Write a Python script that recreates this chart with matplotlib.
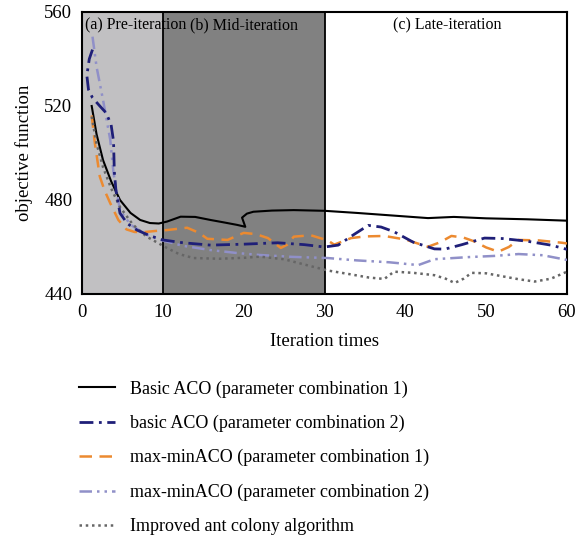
import matplotlib
matplotlib.use("Agg")
import matplotlib.pyplot as plt

plt.rcParams['font.family'] = ['Liberation Serif', 'DejaVu Serif']

# Basic ACO (parameter combination 1)
basic1_x = [1.2, 1.8, 2.6, 3.6, 4.7, 6.0, 7.2, 8.4, 9.5, 10.5, 12.2, 14.0, 15.9, 17.5, 19.2, 20.2, 19.8, 20.4, 21.2, 23.5, 26.2, 30.0, 34.0, 38.0, 42.8, 46.0, 50.0, 55.0, 60.0]
basic1_y = [520.0, 508.0, 497.0, 488.0, 480.0, 474.5, 471.5, 470.2, 470.0, 470.8, 472.9, 472.8, 471.5, 470.5, 469.4, 468.6, 472.5, 474.2, 475.0, 475.5, 475.7, 475.4, 474.5, 473.5, 472.3, 472.8, 472.2, 471.8, 471.2]

# basic ACO (parameter combination 2)
basic2_x = [1.3, 0.9, 0.6, 0.8, 1.3, 2.2, 3.0, 3.6, 3.9, 4.0, 4.2, 4.7, 5.6, 6.8, 8.4, 10.0, 12.5, 15.9, 20.0, 24.2, 27.5, 30.0, 31.7, 33.5, 35.4, 37.0, 38.6, 41.0, 43.6, 44.9, 47.0, 49.8, 52.0, 55.0, 58.0, 60.0]
basic2_y = [544.0, 540.0, 533.0, 527.0, 523.5, 520.0, 517.0, 512.0, 505.0, 492.0, 484.0, 474.4, 470.0, 467.2, 464.8, 463.0, 461.8, 460.8, 461.2, 461.8, 461.0, 460.0, 460.8, 465.0, 469.2, 468.5, 466.5, 462.0, 459.2, 459.1, 461.0, 463.8, 463.6, 462.5, 460.8, 459.0]

# max-minACO (parameter combination 1)
mm1_x = [1.2, 1.6, 2.2, 2.8, 3.5, 4.5, 5.5, 6.5, 7.6, 9.0, 10.5, 13.0, 14.5, 15.5, 18.0, 20.0, 21.5, 23.0, 24.6, 25.4, 26.2, 28.3, 30.4, 31.2, 33.3, 35.0, 37.4, 40.0, 42.8, 44.3, 45.7, 47.2, 48.6, 50.0, 51.5, 52.8, 54.0, 56.5, 59.4, 60.0]
mm1_y = [516.0, 504.0, 490.0, 484.0, 478.6, 471.5, 467.5, 466.4, 466.3, 466.8, 467.2, 468.2, 466.0, 463.5, 463.0, 466.0, 465.5, 463.8, 459.6, 461.0, 464.4, 465.0, 462.8, 461.0, 463.8, 464.5, 464.7, 463.2, 460.1, 462.0, 464.7, 464.0, 462.3, 459.8, 458.0, 460.0, 463.0, 462.8, 461.8, 461.5]

# max-minACO (parameter combination 2)
mm2_x = [1.3, 1.8, 2.6, 3.5, 3.9, 4.7, 6.0, 7.8, 9.7, 12.5, 15.9, 19.0, 22.0, 26.0, 30.4, 34.0, 38.0, 41.6, 43.6, 47.8, 51.0, 54.0, 57.0, 60.0]
mm2_y = [549.5, 536.7, 522.6, 505.5, 491.4, 475.7, 469.5, 465.5, 463.0, 460.5, 458.7, 457.5, 456.6, 455.8, 455.3, 454.3, 453.5, 452.3, 454.8, 455.7, 456.2, 457.0, 456.5, 454.5]

# Improved ant colony algorithm
imp_x = [1.2, 1.8, 2.6, 3.6, 4.7, 6.3, 8.0, 10.5, 12.0, 13.8, 17.0, 20.0, 22.0, 25.0, 27.0, 30.4, 33.0, 35.5, 37.4, 38.6, 41.0, 43.6, 45.0, 46.1, 47.2, 48.2, 50.0, 51.9, 54.0, 56.0, 58.0, 60.0]
imp_y = [515.5, 504.0, 494.0, 485.0, 477.0, 469.5, 464.4, 459.6, 457.0, 455.3, 455.0, 455.4, 455.9, 454.8, 453.0, 450.0, 448.5, 447.0, 446.4, 449.5, 449.0, 448.0, 446.5, 444.7, 446.5, 449.0, 448.8, 447.6, 446.3, 445.3, 446.5, 449.5]

labels = ["Basic ACO (parameter combination 1)",
          "basic ACO (parameter combination 2)",
          "max-minACO (parameter combination 1)",
          "max-minACO (parameter combination 2)",
          "Improved ant colony algorithm"]

phase_edges = [0, 10, 30, 60]
phase_colors = ['#c1c0c2', '#818181', '#ffffff']
phase_labels = ["(a) Pre-iteration", "(b) Mid-iteration", "(c) Late-iteration"]

fig = plt.figure(figsize=(5.76, 5.40), dpi=100)
ax = fig.add_axes([82/576, 1-294/540, (567-82)/576, (294-12)/540])

for i in range(3):
    ax.axvspan(phase_edges[i], phase_edges[i+1], color=phase_colors[i], zorder=0, lw=0)
for e in phase_edges[1:3]:
    ax.axvline(e, color='black', lw=1.3, zorder=1)

ax.text(0.4, 557.5, phase_labels[0], fontsize=11.5, va='top', ha='left')
ax.text(20.1, 557.5, phase_labels[1], fontsize=11.5, va='top', ha='center')
ax.text(45.2, 557.5, phase_labels[2], fontsize=11.5, va='top', ha='center')

l1, = ax.plot(basic1_x, basic1_y, color='black', lw=1.5, ls='-', zorder=3)
l2, = ax.plot(basic2_x, basic2_y, color='#1f1f78', lw=2.0, ls=(0, (5, 2, 1, 2)), zorder=4)
l3, = ax.plot(mm1_x, mm1_y, color='#ec8a30', lw=1.8, ls=(0, (5, 3)), zorder=3)
l4, = ax.plot(mm2_x, mm2_y, color='#9090c8', lw=1.8, ls=(0, (5, 2, 1, 2, 1, 2)), zorder=3)
l5, = ax.plot(imp_x, imp_y, color='#666666', lw=1.8, ls=(0, (1, 1.5)), zorder=3)

ax.set_xlim(0, 60)
ax.set_ylim(440, 560)
ax.set_xticks([0, 10, 20, 30, 40, 50, 60])
ax.set_yticks([440, 480, 520, 560])
ax.tick_params(length=0, labelsize=13.5, pad=7)
for s in ax.spines.values():
    s.set_linewidth(1.5)
ax.set_xlabel("Iteration times", fontsize=13.5, labelpad=9)
ax.set_ylabel("objective function", fontsize=13.5, labelpad=8)

fig.legend([l1, l2, l3, l4, l5], labels, loc='upper left',
           bbox_to_anchor=(72/576, 1-373/540), frameon=False, fontsize=13,
           handlelength=2.0, handletextpad=0.8, labelspacing=0.95, borderaxespad=0)

fig.savefig("out.png", dpi=100)
